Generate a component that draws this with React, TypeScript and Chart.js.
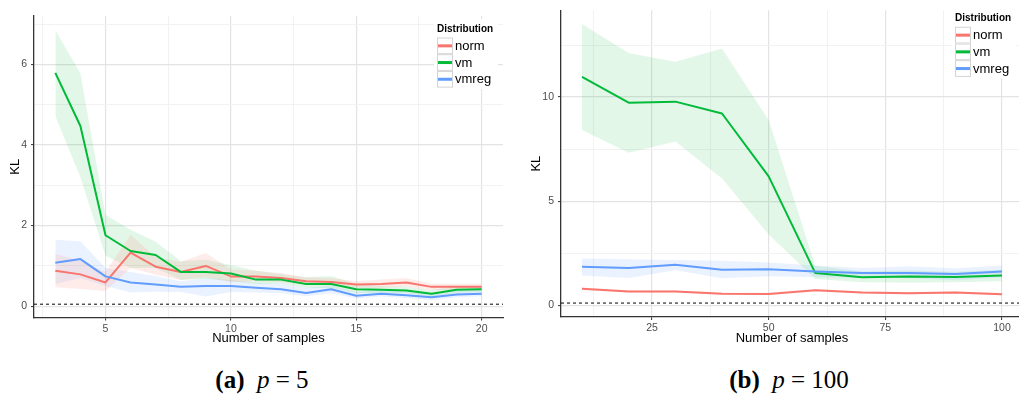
import React, { useEffect, useRef } from 'react';
import { Chart, registerables } from 'chart.js';

Chart.register(...registerables);

const SANS = '"Liberation Sans", Arial, Helvetica, sans-serif';
const SERIF = '"Liberation Serif", "DejaVu Serif", serif';

const seriesNames = ['norm', 'vm', 'vmreg'];
const seriesColors = ['#F8766D', '#00BA38', '#619CFF'];
const bandColors = ['rgba(248,118,109,0.14)', 'rgba(0,186,56,0.11)', 'rgba(97,156,255,0.13)'];

// ---- panel (a): p = 5 ----
const samplesA = [3, 4, 5, 6, 7, 8, 9, 10, 11, 12, 13, 14, 15, 16, 17, 18, 19, 20];
const normA = [0.88, 0.79, 0.59, 1.33, 0.98, 0.85, 1.0, 0.74, 0.74, 0.7, 0.62, 0.6, 0.54, 0.55, 0.59, 0.48, 0.48, 0.48];
const normALo = [0.47, 0.43, 0.38, 0.95, 0.78, 0.65, 0.72, 0.6, 0.62, 0.6, 0.53, 0.52, 0.46, 0.46, 0.48, 0.4, 0.4, 0.41];
const normAHi = [1.3, 1.12, 0.85, 1.77, 1.22, 1.1, 1.32, 0.92, 0.88, 0.82, 0.72, 0.7, 0.62, 0.66, 0.7, 0.56, 0.56, 0.56];
const vmA = [5.79, 4.47, 1.76, 1.37, 1.27, 0.85, 0.85, 0.81, 0.66, 0.66, 0.55, 0.55, 0.42, 0.41, 0.39, 0.31, 0.41, 0.42];
const vmALo = [4.72, 3.2, 1.25, 0.95, 0.95, 0.65, 0.68, 0.62, 0.55, 0.55, 0.45, 0.45, 0.33, 0.33, 0.32, 0.25, 0.33, 0.35];
const vmAHi = [6.85, 5.78, 2.27, 1.9, 1.6, 1.12, 1.15, 1.02, 0.88, 0.8, 0.72, 0.75, 0.55, 0.5, 0.48, 0.4, 0.5, 0.5];
const vmregA = [1.08, 1.17, 0.74, 0.59, 0.54, 0.48, 0.5, 0.5, 0.46, 0.42, 0.33, 0.42, 0.26, 0.31, 0.27, 0.22, 0.29, 0.31];
const vmregALo = [0.55, 0.7, 0.5, 0.34, 0.36, 0.35, 0.24, 0.35, 0.34, 0.32, 0.25, 0.32, 0.19, 0.24, 0.2, 0.15, 0.22, 0.24];
const vmregAHi = [1.65, 1.61, 0.95, 0.85, 0.75, 0.62, 0.7, 0.65, 0.58, 0.55, 0.45, 0.52, 0.35, 0.4, 0.36, 0.3, 0.38, 0.4];
const baselineA = 0.05;
const xTicksA = [2.5, 5, 7.5, 10, 12.5, 15, 17.5, 20];
const xLabelsA = [5, 10, 15, 20];
const yTicksA = [0, 1, 2, 3, 4, 5, 6, 7];
const yLabelsA = [0, 2, 4, 6];

// ---- panel (b): p = 100 ----
const samplesB = [10, 20, 30, 40, 50, 60, 70, 80, 90, 100];
const normB = [0.79, 0.66, 0.66, 0.55, 0.54, 0.72, 0.61, 0.57, 0.61, 0.52];
const normBLo = [0.73, 0.61, 0.61, 0.5, 0.49, 0.67, 0.56, 0.52, 0.56, 0.47];
const normBHi = [0.85, 0.72, 0.72, 0.61, 0.6, 0.78, 0.67, 0.63, 0.67, 0.58];
const vmB = [10.97, 9.73, 9.78, 9.21, 6.19, 1.54, 1.34, 1.38, 1.35, 1.42];
const vmBLo = [8.42, 7.32, 7.87, 6.09, 3.39, 1.26, 1.1, 1.08, 1.1, 1.15];
const vmBHi = [13.51, 12.12, 11.7, 12.33, 8.9, 1.89, 1.62, 1.66, 1.6, 1.7];
const vmregB = [1.84, 1.78, 1.94, 1.7, 1.73, 1.62, 1.54, 1.54, 1.5, 1.62];
const vmregBLo = [1.42, 1.31, 1.68, 1.29, 1.39, 1.34, 1.31, 1.31, 1.2, 1.34];
const vmregBHi = [2.24, 2.2, 2.17, 2.13, 2.05, 1.9, 1.78, 1.87, 1.77, 1.9];
const baselineB = 0.1;
const xTicksB = [12.5, 25, 37.5, 50, 62.5, 75, 87.5, 100];
const xLabelsB = [25, 50, 75, 100];
const yTicksB = [0, 2.5, 5, 7.5, 10, 12.5];
const yLabelsB = [0, 5, 10];

type Group = { mid: number[]; lo: number[]; hi: number[] };

type PanelSpec = {
  samples: number[];
  groups: Group[];
  baseline: number;
  xMin: number;
  xMax: number;
  yMin: number;
  yMax: number;
  xTicks: number[];
  xLabels: number[];
  yTicks: number[];
  yLabels: number[];
  canvasW: number;
  canvasH: number;
  yAxisW: number;
  xAxisH: number;
  padTop: number;
  padRight: number;
  yTitlePad: number;
  legendX: number;
  legendY: number;
};

const pts = (xs: number[], ys: number[]) => xs.map((x, i) => ({ x, y: ys[i] }));

function buildDatasets(samples: number[], groups: Group[]) {
  const ds: any[] = [];
  groups.forEach((g, i) => {
    ds.push({
      label: seriesNames[i] + ' hi',
      data: pts(samples, g.hi),
      borderWidth: 0,
      pointRadius: 0,
      backgroundColor: bandColors[i],
      fill: '+1',
      order: 10,
    });
    ds.push({
      label: seriesNames[i] + ' lo',
      data: pts(samples, g.lo),
      borderWidth: 0,
      pointRadius: 0,
      fill: false,
      order: 10,
    });
  });
  groups.forEach((g, i) => {
    ds.push({
      label: seriesNames[i],
      data: pts(samples, g.mid),
      borderColor: seriesColors[i],
      borderWidth: 2,
      borderJoinStyle: 'round',
      pointRadius: 0,
      fill: false,
      order: 3 - i,
    });
  });
  return ds;
}

const baselinePlugin = {
  id: 'baseline',
  afterDatasetsDraw(chart: any, _args: any, opts: any) {
    const { ctx, chartArea } = chart;
    const y = chart.scales.y.getPixelForValue(opts.value);
    ctx.save();
    ctx.strokeStyle = '#000';
    ctx.lineWidth = 1;
    ctx.setLineDash([3, 3]);
    ctx.beginPath();
    ctx.moveTo(chartArea.left, y);
    ctx.lineTo(chartArea.right, y);
    ctx.stroke();
    ctx.restore();
  },
};

const keyLegendPlugin = {
  id: 'keyLegend',
  afterDraw(chart: any, _args: any, opts: any) {
    const { ctx } = chart;
    const x0 = opts.x;
    const y0 = opts.y;
    const rowH = 16.7;
    const keyW = 16;
    ctx.save();
    ctx.fillStyle = '#fff';
    ctx.fillRect(x0 - 3, y0 - 10, 64, 70);
    ctx.fillStyle = '#000';
    ctx.font = `bold 10px ${SANS}`;
    ctx.textBaseline = 'middle';
    ctx.textAlign = 'left';
    ctx.fillText('Distribution', x0, y0);
    seriesNames.forEach((name, i) => {
      const top = y0 + 8.5 + i * rowH;
      ctx.fillStyle = '#fff';
      ctx.fillRect(x0, top, keyW, rowH);
      ctx.strokeStyle = '#d4d4d4';
      ctx.lineWidth = 1;
      ctx.strokeRect(x0 + 0.5, top + 0.5, keyW - 1, rowH - 1);
      ctx.strokeStyle = seriesColors[i];
      ctx.lineWidth = 3;
      ctx.beginPath();
      ctx.moveTo(x0 + 1, top + rowH / 2);
      ctx.lineTo(x0 + keyW - 1, top + rowH / 2);
      ctx.stroke();
      ctx.fillStyle = '#000';
      ctx.font = `13px ${SANS}`;
      ctx.fillText(name, x0 + keyW + 2, top + rowH / 2 + 0.5);
    });
    ctx.restore();
  },
};

function Panel({ spec, left }: { spec: PanelSpec; left: number }) {
  const ref = useRef<HTMLCanvasElement | null>(null);

  useEffect(() => {
    if (!ref.current) return;
    const s = spec;
    const isMajor = (list: number[], v: number) => list.includes(v);
    const chart = new Chart(ref.current, {
      type: 'line',
      data: { datasets: buildDatasets(s.samples, s.groups) },
      plugins: [baselinePlugin, keyLegendPlugin],
      options: {
        animation: false,
        responsive: false,
        maintainAspectRatio: false,
        layout: { padding: { top: s.padTop, right: s.padRight, left: 0, bottom: 0 } },
        elements: { line: { tension: 0 } },
        plugins: {
          legend: { display: false },
          tooltip: { enabled: false },
          filler: { drawTime: 'beforeDatasetsDraw' },
          baseline: { value: s.baseline },
          keyLegend: { x: s.legendX, y: s.legendY },
        } as any,
        scales: {
          x: {
            type: 'linear',
            min: s.xMin,
            max: s.xMax,
            afterBuildTicks: (sc: any) => {
              sc.ticks = s.xTicks.map((v) => ({ value: v }));
            },
            afterFit: (sc: any) => {
              sc.height = s.xAxisH;
            },
            ticks: {
              autoSkip: false,
              maxRotation: 0,
              padding: 2,
              color: '#4d4d4d',
              font: { family: SANS, size: 10.5 },
              callback: (v: any) => (isMajor(s.xLabels, Number(v)) ? String(v) : ''),
            },
            grid: {
              color: (c: any) => (isMajor(s.xLabels, c.tick?.value) ? '#e3e3e3' : '#f2f2f2'),
              lineWidth: (c: any) => (isMajor(s.xLabels, c.tick?.value) ? 1.2 : 1),
              tickLength: 3,
              tickColor: (c: any) => (isMajor(s.xLabels, c.tick?.value) ? '#333' : 'rgba(0,0,0,0)'),
              tickWidth: 1,
            },
            border: { display: true, color: '#333', width: 1.3 },
            title: {
              display: true,
              text: 'Number of samples',
              color: '#000',
              font: { family: SANS, size: 13 },
              padding: { top: 0, bottom: 3.5 },
            },
          },
          y: {
            type: 'linear',
            min: s.yMin,
            max: s.yMax,
            afterBuildTicks: (sc: any) => {
              sc.ticks = s.yTicks.map((v) => ({ value: v }));
            },
            afterFit: (sc: any) => {
              sc.width = s.yAxisW;
            },
            ticks: {
              autoSkip: false,
              padding: 4,
              color: '#4d4d4d',
              font: { family: SANS, size: 10.5 },
              callback: (v: any) => (isMajor(s.yLabels, Number(v)) ? String(v) : ''),
            },
            grid: {
              color: (c: any) => (isMajor(s.yLabels, c.tick?.value) ? '#e3e3e3' : '#f2f2f2'),
              lineWidth: (c: any) => (isMajor(s.yLabels, c.tick?.value) ? 1.2 : 1),
              tickLength: 3,
              tickColor: (c: any) => (isMajor(s.yLabels, c.tick?.value) ? '#333' : 'rgba(0,0,0,0)'),
              tickWidth: 1,
            },
            border: { display: true, color: '#333', width: 1.3 },
            title: {
              display: true,
              text: 'KL',
              color: '#000',
              font: { family: SANS, size: 13 },
              padding: { top: s.yTitlePad, bottom: 0 },
            },
          },
        },
      } as any,
    });
    return () => chart.destroy();
  }, [spec]);

  return (
    <div
      style={{
        position: 'absolute',
        left,
        top: 0,
        width: 1019 - left > 510 ? 510 : 1019 - left,
        height: spec.canvasH,
        overflow: 'hidden',
      }}
    >
      <canvas
        ref={ref}
        width={spec.canvasW}
        height={spec.canvasH}
        style={{ width: spec.canvasW, height: spec.canvasH, display: 'block' }}
      />
    </div>
  );
}

const specA: PanelSpec = {
  samples: samplesA,
  groups: [
    { mid: normA, lo: normALo, hi: normAHi },
    { mid: vmA, lo: vmALo, hi: vmAHi },
    { mid: vmregA, lo: vmregALo, hi: vmregAHi },
  ],
  baseline: baselineA,
  xMin: 2.15,
  xMax: 20.85,
  yMin: -0.28,
  yMax: 7.2,
  xTicks: xTicksA,
  xLabels: xLabelsA,
  yTicks: yTicksA,
  yLabels: yLabelsA,
  canvasW: 510,
  canvasH: 350,
  yAxisW: 34,
  xAxisH: 32.5,
  padTop: 16,
  padRight: 7,
  yTitlePad: 8,
  legendX: 437,
  legendY: 29,
};

const specB: PanelSpec = {
  samples: samplesB,
  groups: [
    { mid: normB, lo: normBLo, hi: normBHi },
    { mid: vmB, lo: vmBLo, hi: vmBHi },
    { mid: vmregB, lo: vmregBLo, hi: vmregBHi },
  ],
  baseline: baselineB,
  xMin: 5.5,
  xMax: 104.5,
  yMin: -0.57,
  yMax: 14.17,
  xTicks: xTicksB,
  xLabels: xLabelsB,
  yTicks: yTicksB,
  yLabels: yLabelsB,
  canvasW: 516,
  canvasH: 350,
  yAxisW: 51,
  xAxisH: 33,
  padTop: 5,
  padRight: 3,
  yTitlePad: 19,
  legendX: 445,
  legendY: 18.3,
};

const captionStyle: React.CSSProperties = {
  position: 'absolute',
  top: 366,
  fontFamily: SERIF,
  fontSize: 25,
  color: '#000',
  whiteSpace: 'nowrap',
  transform: 'translateX(-50%)',
};

export default function App() {
  return (
    <div
      style={{
        position: 'fixed',
        left: 0,
        top: 0,
        width: 1019,
        height: 409,
        background: '#fff',
        overflow: 'hidden',
      }}
    >
      <Panel spec={specA} left={0} />
      <Panel spec={specB} left={510} />
      <div style={{ ...captionStyle, left: 262 }}>
        <b>(a)</b>&nbsp; <i>p</i> = 5
      </div>
      <div style={{ ...captionStyle, left: 789 }}>
        <b>(b)</b>&nbsp; <i>p</i> = 100
      </div>
    </div>
  );
}
